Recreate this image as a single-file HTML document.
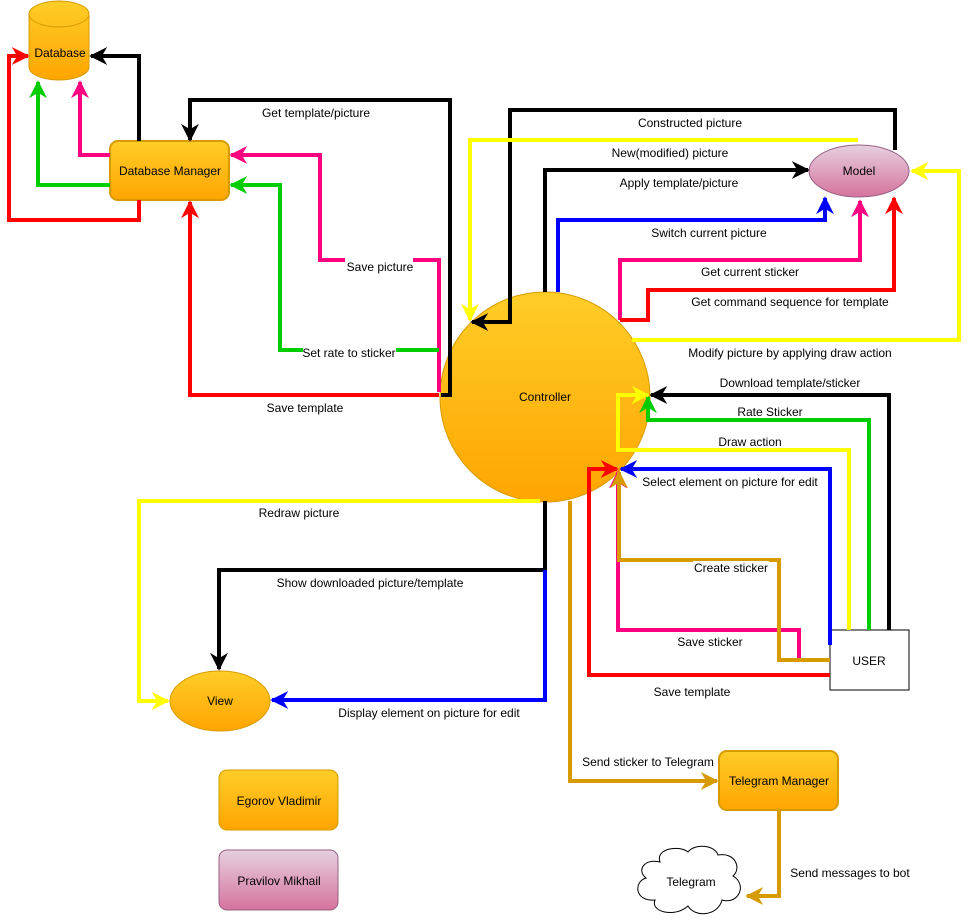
<!DOCTYPE html>
<html><head><meta charset="utf-8"><style>
html,body{margin:0;padding:0;background:#fff;}
svg{display:block;font-family:"Liberation Sans",sans-serif;font-size:12px;}
</style></head><body>
<svg width="969" height="921" viewBox="0 0 969 921" xmlns="http://www.w3.org/2000/svg">
<defs>
<linearGradient id="og" x1="0" y1="0" x2="0" y2="1"><stop offset="0" stop-color="#FFCD28"/><stop offset="1" stop-color="#FFA500"/></linearGradient>
<linearGradient id="pg" x1="0" y1="0" x2="0" y2="1"><stop offset="0" stop-color="#E6D0DE"/><stop offset="1" stop-color="#D5739D"/></linearGradient>
<marker id="ak" viewBox="0 0 10 10" refX="9" refY="5" markerWidth="18" markerHeight="18" markerUnits="userSpaceOnUse" orient="auto"><path d="M0,0 L10,5 L0,10 L3,5z" fill="#000"/></marker>
<marker id="ay" viewBox="0 0 10 10" refX="9" refY="5" markerWidth="18" markerHeight="18" markerUnits="userSpaceOnUse" orient="auto"><path d="M0,0 L10,5 L0,10 L3,5z" fill="#FFFF00"/></marker>
<marker id="ag" viewBox="0 0 10 10" refX="9" refY="5" markerWidth="18" markerHeight="18" markerUnits="userSpaceOnUse" orient="auto"><path d="M0,0 L10,5 L0,10 L3,5z" fill="#00CC00"/></marker>
<marker id="ap" viewBox="0 0 10 10" refX="9" refY="5" markerWidth="18" markerHeight="18" markerUnits="userSpaceOnUse" orient="auto"><path d="M0,0 L10,5 L0,10 L3,5z" fill="#FF0080"/></marker>
<marker id="ar" viewBox="0 0 10 10" refX="9" refY="5" markerWidth="18" markerHeight="18" markerUnits="userSpaceOnUse" orient="auto"><path d="M0,0 L10,5 L0,10 L3,5z" fill="#FF0000"/></marker>
<marker id="ab" viewBox="0 0 10 10" refX="9" refY="5" markerWidth="18" markerHeight="18" markerUnits="userSpaceOnUse" orient="auto"><path d="M0,0 L10,5 L0,10 L3,5z" fill="#0000FF"/></marker>
<marker id="ao" viewBox="0 0 10 10" refX="9" refY="5" markerWidth="18" markerHeight="18" markerUnits="userSpaceOnUse" orient="auto"><path d="M0,0 L10,5 L0,10 L3,5z" fill="#D79B00"/></marker>
</defs>

<path d="M29,14 A30,13 0 0 1 89,14 V67 A30,13 0 0 1 29,67 Z" fill="url(#og)" stroke="#D79B00"/>
<path d="M29,14 A30,13 0 0 0 89,14" fill="none" stroke="#D79B00"/>
<text x="60" y="57" text-anchor="middle">Database</text>

<rect x="110" y="141" width="119" height="59" rx="8" fill="url(#og)" stroke="#D79B00" stroke-width="2"/>
<text x="170" y="175" text-anchor="middle">Database Manager</text>

<circle cx="545" cy="397" r="105" fill="url(#og)" stroke="#D79B00"/>
<text x="545" y="401" text-anchor="middle">Controller</text>

<ellipse cx="859" cy="171" rx="50" ry="26" fill="url(#pg)" stroke="#996185"/>
<text x="859" y="175" text-anchor="middle">Model</text>

<ellipse cx="220" cy="701" rx="50" ry="30" fill="url(#og)" stroke="#D79B00"/>
<text x="220" y="705" text-anchor="middle">View</text>

<rect x="830" y="630" width="79" height="60" fill="#fff" stroke="#000"/>
<text x="869" y="665" text-anchor="middle">USER</text>

<rect x="719" y="751" width="119" height="59" rx="8" fill="url(#og)" stroke="#D79B00" stroke-width="2"/>
<text x="779" y="785" text-anchor="middle">Telegram Manager</text>

<rect x="219" y="770" width="119" height="60" rx="8" fill="url(#og)" stroke="#D79B00"/>
<text x="279" y="805" text-anchor="middle">Egorov Vladimir</text>
<rect x="219" y="850" width="119" height="60" rx="8" fill="url(#pg)" stroke="#996185"/>
<text x="279" y="885" text-anchor="middle">Pravilov Mikhail</text>

<path d="M660,862 C655,848 680,845 688,852 C695,843 715,845 718,855 C735,852 742,868 733,876 C748,885 738,905 722,900 C718,916 695,918 688,906 C675,918 650,912 655,900 C635,902 633,882 646,878 C636,870 645,858 660,862 Z" fill="#fff" stroke="#000"/>
<text x="691" y="886" text-anchor="middle">Telegram</text>

<g fill="none" stroke-width="4">
<path d="M139,141 V56 H91" stroke="#000" marker-end="url(#ak)"/>
<path d="M110,155 H80 V82" stroke="#FF0080" marker-end="url(#ap)"/>
<path d="M110,185 H38 V82" stroke="#00CC00" marker-end="url(#ag)"/>
<path d="M139,200 V220 H9 V56 H28" stroke="#FF0000" marker-end="url(#ar)"/>
<path d="M441,395 H450 V100 H190 V140" stroke="#000" marker-end="url(#ak)"/>
<path d="M439,392 V260 H320 V155 H231" stroke="#FF0080" marker-end="url(#ap)"/>
<path d="M439,350 H280 V185 H231" stroke="#00CC00" marker-end="url(#ag)"/>
<path d="M439,395 H190 V202" stroke="#FF0000" marker-end="url(#ar)"/>
<path d="M895,150 V110 H510 V322 H472" stroke="#000" marker-end="url(#ak)"/>
<path d="M858,140 H470 V320" stroke="#FFFF00" marker-end="url(#ay)"/>
<path d="M545,292 V170 H808" stroke="#000" marker-end="url(#ak)"/>
<path d="M558,292 V220 H825 V198" stroke="#0000FF" marker-end="url(#ab)"/>
<path d="M620,320 V260 H860 V201" stroke="#FF0080" marker-end="url(#ap)"/>
<path d="M620,320 H648 V290 H894 V198" stroke="#FF0000" marker-end="url(#ar)"/>
<path d="M632,340 H959 V171 H912" stroke="#FFFF00" marker-end="url(#ay)"/>
<path d="M889,630 V395 H651" stroke="#000" marker-end="url(#ak)"/>
<path d="M869,630 V420 H648 V397" stroke="#00CC00" marker-end="url(#ag)"/>
<path d="M849,630 V450 H618 V395 H648" stroke="#FFFF00" marker-end="url(#ay)"/>
<path d="M830,645 V469 H621" stroke="#0000FF" marker-end="url(#ab)"/>
<path d="M830,675 H589 V469 H617" stroke="#FF0000" marker-end="url(#ar)"/>
<path d="M830,660 H799 V630 H618 V472" stroke="#FF0080" marker-end="url(#ap)"/>
<path d="M830,660 H779 V560 H619 V472" stroke="#D79B00" marker-end="url(#ao)"/>
<path d="M540,501 H139 V701 H168" stroke="#FFFF00" marker-end="url(#ay)"/>
<path d="M545,501 V570 H219 V669" stroke="#000" marker-end="url(#ak)"/>
<path d="M545,570 V700 H272" stroke="#0000FF" marker-end="url(#ab)"/>
<path d="M570,501 V781 H717" stroke="#D79B00" marker-end="url(#ao)"/>
<path d="M779,810 V896 H747" stroke="#D79B00" marker-end="url(#ao)"/>
</g>

<g fill="#000">
<text x="316" y="117" text-anchor="middle">Get template/picture</text>
<rect x="345" y="257" width="68" height="14" fill="#fff"/>
<text x="380" y="271" text-anchor="middle">Save picture</text>
<rect x="303" y="344" width="93" height="14" fill="#fff"/>
<text x="349" y="357" text-anchor="middle">Set rate to sticker</text>
<text x="305" y="412" text-anchor="middle">Save template</text>
<text x="690" y="127" text-anchor="middle">Constructed picture</text>
<text x="670" y="157" text-anchor="middle">New(modified) picture</text>
<text x="679" y="187" text-anchor="middle">Apply template/picture</text>
<text x="709" y="237" text-anchor="middle">Switch current picture</text>
<text x="750" y="276" text-anchor="middle">Get current sticker</text>
<text x="790" y="306" text-anchor="middle">Get command sequence for template</text>
<text x="790" y="357" text-anchor="middle">Modify picture by applying draw action</text>
<text x="790" y="387" text-anchor="middle">Download  template/sticker</text>
<rect x="736" y="404" width="68" height="14" fill="#fff"/>
<text x="770" y="416" text-anchor="middle">Rate Sticker</text>
<text x="750" y="446" text-anchor="middle">Draw action</text>
<text x="730" y="486" text-anchor="middle">Select element on picture for edit</text>
<rect x="693" y="561" width="76" height="14" fill="#fff"/>
<text x="731" y="572" text-anchor="middle">Create sticker</text>
<text x="710" y="646" text-anchor="middle">Save sticker</text>
<text x="692" y="696" text-anchor="middle">Save template</text>
<text x="299" y="517" text-anchor="middle">Redraw picture</text>
<text x="370" y="587" text-anchor="middle">Show downloaded picture/template</text>
<text x="429" y="717" text-anchor="middle">Display element on picture for edit</text>
<text x="648" y="766" text-anchor="middle">Send sticker to Telegram</text>
<text x="850" y="877" text-anchor="middle">Send messages to bot</text>
</g>
</svg>
</body></html>
